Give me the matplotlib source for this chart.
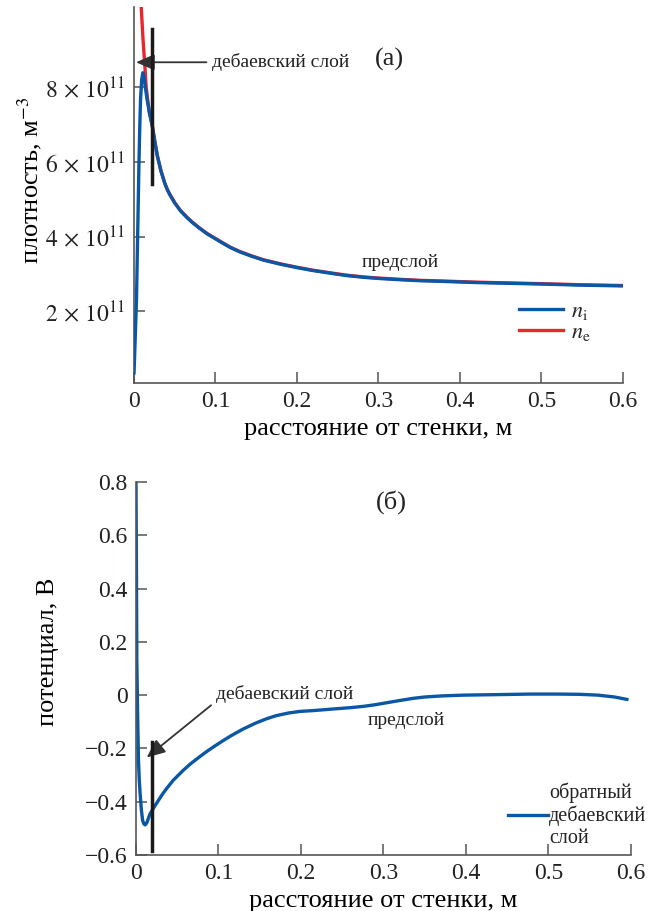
import matplotlib
matplotlib.use("Agg")
import matplotlib.pyplot as plt
from matplotlib.ticker import FuncFormatter

plt.rcParams['font.family'] = ['Liberation Serif', 'DejaVu Serif']
plt.rcParams['mathtext.fontset'] = 'stix'
plt.rcParams['text.color'] = '#222222'

# --- panel (a): density, units of 1e11 m^-3 ---
x_ni = [0.0, 0.0015, 0.003, 0.0045, 0.006, 0.007, 0.008, 0.0094, 0.0108, 0.0125,
        0.014, 0.016, 0.019, 0.0223, 0.0255, 0.0285, 0.033, 0.038, 0.041, 0.044,
        0.050, 0.057, 0.065, 0.072, 0.080, 0.090, 0.100, 0.110, 0.118, 0.130,
        0.145, 0.159, 0.180, 0.200, 0.220, 0.241, 0.260, 0.282, 0.300, 0.323,
        0.350, 0.380, 0.420, 0.460, 0.500, 0.550, 0.600]
ni = [0.35, 1.3, 2.29, 4.1, 5.9, 6.9, 7.68, 8.2, 8.39, 8.25,
      7.98, 7.68, 7.3, 6.97, 6.55, 6.17, 5.76, 5.41, 5.25, 5.12,
      4.90, 4.69, 4.51, 4.37, 4.23, 4.07, 3.94, 3.81, 3.71, 3.59,
      3.47, 3.37, 3.26, 3.17, 3.09, 3.02, 2.96, 2.91, 2.88, 2.85,
      2.82, 2.80, 2.77, 2.75, 2.73, 2.70, 2.68]

x_ne = [0.0075, 0.0088, 0.0110, 0.0133, 0.0148, 0.0165, 0.019, 0.0223, 0.0255,
        0.0285, 0.033, 0.038, 0.041, 0.044, 0.050, 0.057, 0.065, 0.072, 0.080,
        0.090, 0.100, 0.110, 0.118, 0.130, 0.145, 0.159, 0.180, 0.200, 0.220,
        0.241, 0.260, 0.282, 0.300, 0.323, 0.350, 0.380, 0.420, 0.460, 0.500,
        0.550, 0.600]
ne = [10.8, 10.16, 9.3, 8.57, 8.03, 7.7, 7.32, 6.99, 6.56,
      6.18, 5.77, 5.42, 5.26, 5.13, 4.91, 4.70, 4.52, 4.38, 4.24,
      4.08, 3.95, 3.82, 3.72, 3.60, 3.48, 3.38, 3.27, 3.18, 3.10,
      3.03, 2.97, 2.92, 2.89, 2.86, 2.83, 2.81, 2.78, 2.76, 2.74,
      2.71, 2.69]

density_ticks = [2, 4, 6, 8]

# --- panel (b): potential, V ---
x_phi = [0.0, 0.0005, 0.001, 0.002, 0.003, 0.004, 0.005, 0.0065, 0.008, 0.0095,
         0.011, 0.013, 0.017, 0.022, 0.027, 0.032, 0.037, 0.045, 0.057, 0.066,
         0.076, 0.086, 0.096, 0.106, 0.116, 0.130, 0.145, 0.158, 0.170, 0.185,
         0.199, 0.215, 0.239, 0.260, 0.276, 0.290, 0.305, 0.320, 0.336, 0.350,
         0.370, 0.397, 0.440, 0.478, 0.510, 0.538, 0.560, 0.580, 0.595]
phi = [0.8, 0.5, 0.13, -0.08, -0.245, -0.32, -0.37, -0.43, -0.47, -0.483,
       -0.487, -0.48, -0.446, -0.42, -0.396, -0.372, -0.351, -0.32, -0.283, -0.258,
       -0.234, -0.211, -0.19, -0.17, -0.151, -0.127, -0.105, -0.089, -0.077, -0.067,
       -0.061, -0.058, -0.052, -0.047, -0.042, -0.036, -0.028, -0.02, -0.012, -0.007,
       -0.003, 0.0, 0.002, 0.004, 0.004, 0.003, 0.0, -0.007, -0.016]

x_ticks = [0, 0.1, 0.2, 0.3, 0.4, 0.5, 0.6]
phi_ticks = [-0.6, -0.4, -0.2, 0, 0.2, 0.4, 0.6, 0.8]

BLUE = '#0a57a6'
RED = '#e8262b'
SPINE = '#555555'
FS = 17      # tick labels
LFS = 19     # axis labels
AFS = 14     # annotations


def style_axes(ax):
    for s in ['top', 'right']:
        ax.spines[s].set_visible(False)
    for s in ['left', 'bottom']:
        ax.spines[s].set_color(SPINE)
        ax.spines[s].set_linewidth(1.2)
    ax.tick_params(direction='in', length=8, width=1.1, color=SPINE,
                   labelsize=FS, labelcolor='#222222', pad=6)


def fmt_x(v, p):
    return '0' if v == 0 else f'{v:.1f}'


fig = plt.figure(figsize=(6.57, 9.11), dpi=100)

# top panel
ax1 = fig.add_axes([0.204, 0.5796, 0.744, 0.4127])
ax1.plot(x_ne, [v * 1e11 for v in ne], color=RED, lw=2.4,
         label=r'$n_\mathrm{e}$', zorder=2)
ax1.plot(x_ni, [v * 1e11 for v in ni], color=BLUE, lw=2.4,
         label=r'$n_\mathrm{i}$', zorder=3)
ax1.set_xlim(0, 0.6)
ax1.set_ylim(0.08e11, 10.15e11)
ax1.set_xticks(x_ticks)
ax1.xaxis.set_major_formatter(FuncFormatter(fmt_x))
ax1.set_yticks([t * 1e11 for t in density_ticks])
ax1.yaxis.set_major_formatter(
    FuncFormatter(lambda v, p: r'$%d\,\times\,10^{11}$' % round(v / 1e11)))
style_axes(ax1)
ax1.set_xlabel('расстояние от стенки, м', fontsize=LFS, labelpad=4)
ax1.set_ylabel(r'плотность, м$^{-3}$', fontsize=LFS)
ax1.yaxis.set_label_coords(-0.184, 0.54)

# debye sheath marker and arrow
ax1.plot([0.0223, 0.0223], [5.41e11, 9.55e11], color='#1a1a1a', lw=2.5, zorder=4)
ax1.annotate('дебаевский слой', xy=(0.0025, 8.67e11), xytext=(0.0957, 8.67e11),
             fontsize=AFS, va='center', ha='left',
             arrowprops=dict(arrowstyle='-|>,head_length=0.8,head_width=0.35',
                             color='#333333', lw=1.3, shrinkA=2, shrinkB=0,
                             relpos=(0, 0.5)))
ax1.text(0.314, 8.75e11, '(а)', fontsize=LFS, ha='center', va='center')
ax1.text(0.28, 3.31e11, 'предслой', fontsize=AFS, ha='left', va='center')

handles, labels = ax1.get_legend_handles_labels()
ax1.legend(handles[::-1], labels[::-1], loc='center left',
           bbox_to_anchor=(0.746, 0.162), frameon=False, fontsize=16,
           handlelength=2.0, handletextpad=0.35, labelspacing=0.0)

# bottom panel
ax2 = fig.add_axes([0.207, 0.0615, 0.7534, 0.4094])
ax2.plot(x_phi, phi, color=BLUE, lw=2.4,
         label='обратный\nдебаевский\nслой')
ax2.set_xlim(0, 0.6)
ax2.set_ylim(-0.6, 0.8)
ax2.set_xticks(x_ticks)
ax2.xaxis.set_major_formatter(FuncFormatter(fmt_x))
ax2.set_yticks(phi_ticks)
ax2.yaxis.set_major_formatter(FuncFormatter(
    lambda v, p: '0' if abs(v) < 1e-9 else f'{v:.1f}'.replace('-', '\u2212')))
style_axes(ax2)
ax2.set_xlabel('расстояние от стенки, м', fontsize=LFS, labelpad=4)
ax2.set_ylabel('потенциал, В', fontsize=LFS)
ax2.yaxis.set_label_coords(-0.156, 0.544)

ax2.plot([0.020, 0.020], [-0.177, -0.585], color='#1a1a1a', lw=2.5, zorder=4)
ax2.annotate('дебаевский слой', xy=(0.013, -0.234), xytext=(0.097, 0.004),
             fontsize=AFS, va='center', ha='left',
             arrowprops=dict(arrowstyle='-|>,head_length=0.8,head_width=0.35',
                             color='#333333', lw=1.3, shrinkA=2, shrinkB=0,
                             relpos=(0, 0.1)))
ax2.text(0.31, 0.725, '(б)', fontsize=LFS, ha='center', va='center')
ax2.text(0.281, -0.094, 'предслой', fontsize=AFS, ha='left', va='center')

ax2.legend(loc='center left', bbox_to_anchor=(0.715, 0.107), frameon=False,
           fontsize=14.5, handlelength=2.0, handletextpad=0.05)

fig.savefig('out.png', dpi=100)
